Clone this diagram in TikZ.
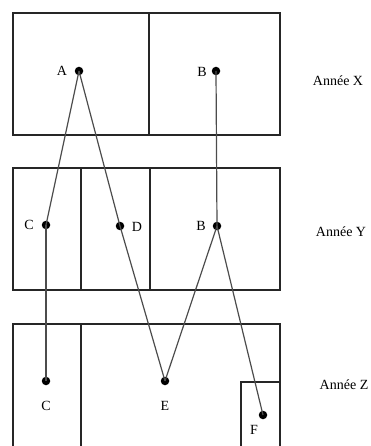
\documentclass[tikz,border=0pt]{standalone}
\usepackage{fontspec}
\setmainfont{Liberation Serif}
\begin{document}
\begin{tikzpicture}[x=1pt,y=-1pt,
  frame/.style={line width=1.6pt,draw=black!85},
  dot/.style={circle,fill=black,inner sep=0pt,minimum size=8.5pt},
  lab/.style={inner sep=0pt,font=\fontsize{14}{16}\selectfont},
  link/.style={line width=1.2pt,draw=black!70}]
\useasboundingbox (0,0) rectangle (371,446);
% Year X
\draw[frame] (13,13) rectangle (280,135);
\draw[frame] (149,13) -- (149,135);
% Year Y
\draw[frame] (13,168) rectangle (280,290);
\draw[frame] (81,168) -- (81,290);
\draw[frame] (150,168) -- (150,290);
% Year Z
\draw[frame] (13,324) rectangle (280,446.5);
\draw[frame] (81,324) -- (81,446.5);
\draw[frame] (241,446.5) -- (241,382) -- (280,382);
% dots
\node[dot] (A) at (79,71) {};
\node[dot] (B1) at (216,71) {};
\node[dot] (C1) at (46,225) {};
\node[dot] (D) at (120,226) {};
\node[dot] (B2) at (217,226) {};
\node[dot] (C2) at (46,381) {};
\node[dot] (E) at (165,381) {};
\node[dot] (F) at (263,415) {};
% labels
\node[lab] (lA) at (62,71) {A};
\node[lab] (lB1) at (202,72) {B};
\node[lab] (lC1) at (29,225) {C};
\node[lab] (lD) at (137,227) {D};
\node[lab] (lB2) at (201,226) {B};
\node[lab] (lC2) at (46,406) {C};
\node[lab] (lE) at (165,406) {E};
\node[lab] (lF) at (254,430) {F};
\node[lab] (yX) at (338,81) {Année X};
\node[lab] (yY) at (341,232) {Année Y};
\node[lab] (yZ) at (344,385) {Année Z};
% connectors
\draw[link] (A.center) -- (C1.center);
\draw[link] (A.center) -- (D.center);
\draw[link] (D.center) -- (E.center);
\draw[link] (B1.center) -- (B2.center);
\draw[link] (B2.center) -- (E.center);
\draw[link] (B2.center) -- (F.center);
\draw[link] (C1.center) -- (C2.center);
\end{tikzpicture}
\end{document}
